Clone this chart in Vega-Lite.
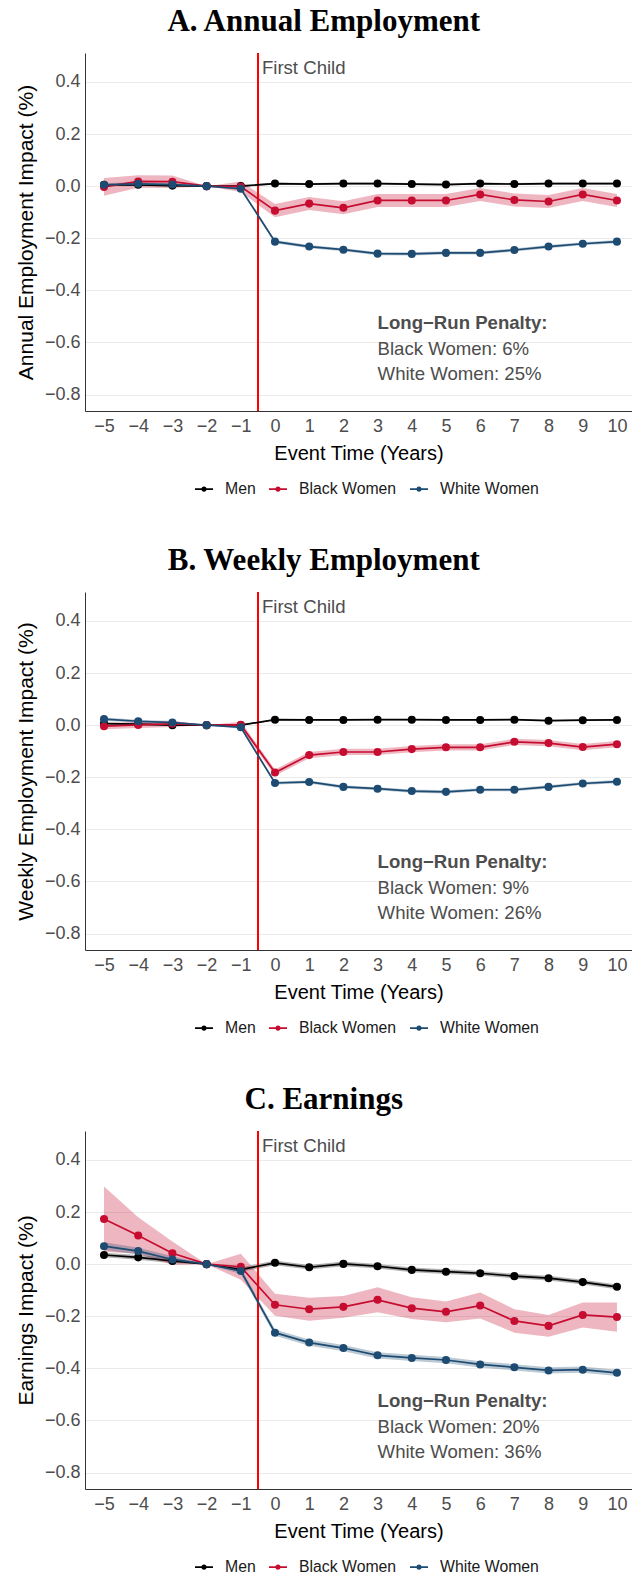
{
  "$schema": "https://vega.github.io/schema/vega-lite/v6.json",
  "padding": {"left": 15, "top": 6, "right": 0, "bottom": 0},
  "background": "white",
  "spacing": 48,
  "datasets": {
    "est": [
      {"p":"A","s":"Men","t":-5,"y":0.005,"lo":0.001,"hi":0.009},
      {"p":"A","s":"Men","t":-4,"y":0.005,"lo":0.001,"hi":0.009},
      {"p":"A","s":"Men","t":-3,"y":0.002,"lo":-0.002,"hi":0.006},
      {"p":"A","s":"Men","t":-2,"y":0,"lo":0,"hi":0},
      {"p":"A","s":"Men","t":-1,"y":0,"lo":-0.004,"hi":0.004},
      {"p":"A","s":"Men","t":0,"y":0.010,"lo":0.006,"hi":0.014},
      {"p":"A","s":"Men","t":1,"y":0.008,"lo":0.004,"hi":0.012},
      {"p":"A","s":"Men","t":2,"y":0.010,"lo":0.006,"hi":0.014},
      {"p":"A","s":"Men","t":3,"y":0.010,"lo":0.006,"hi":0.014},
      {"p":"A","s":"Men","t":4,"y":0.008,"lo":0.004,"hi":0.012},
      {"p":"A","s":"Men","t":5,"y":0.006,"lo":0.002,"hi":0.010},
      {"p":"A","s":"Men","t":6,"y":0.010,"lo":0.006,"hi":0.014},
      {"p":"A","s":"Men","t":7,"y":0.008,"lo":0.004,"hi":0.012},
      {"p":"A","s":"Men","t":8,"y":0.010,"lo":0.006,"hi":0.014},
      {"p":"A","s":"Men","t":9,"y":0.010,"lo":0.006,"hi":0.014},
      {"p":"A","s":"Men","t":10,"y":0.010,"lo":0.006,"hi":0.014},
      {"p":"A","s":"Black Women","t":-5,"y":-0.003,"lo":-0.037,"hi":0.031},
      {"p":"A","s":"Black Women","t":-4,"y":0.018,"lo":-0.006,"hi":0.042},
      {"p":"A","s":"Black Women","t":-3,"y":0.017,"lo":-0.007,"hi":0.041},
      {"p":"A","s":"Black Women","t":-2,"y":0,"lo":0,"hi":0},
      {"p":"A","s":"Black Women","t":-1,"y":-0.002,"lo":-0.022,"hi":0.018},
      {"p":"A","s":"Black Women","t":0,"y":-0.094,"lo":-0.119,"hi":-0.069},
      {"p":"A","s":"Black Women","t":1,"y":-0.067,"lo":-0.092,"hi":-0.042},
      {"p":"A","s":"Black Women","t":2,"y":-0.083,"lo":-0.108,"hi":-0.058},
      {"p":"A","s":"Black Women","t":3,"y":-0.055,"lo":-0.080,"hi":-0.030},
      {"p":"A","s":"Black Women","t":4,"y":-0.055,"lo":-0.080,"hi":-0.030},
      {"p":"A","s":"Black Women","t":5,"y":-0.055,"lo":-0.080,"hi":-0.030},
      {"p":"A","s":"Black Women","t":6,"y":-0.032,"lo":-0.057,"hi":-0.007},
      {"p":"A","s":"Black Women","t":7,"y":-0.053,"lo":-0.078,"hi":-0.028},
      {"p":"A","s":"Black Women","t":8,"y":-0.059,"lo":-0.084,"hi":-0.034},
      {"p":"A","s":"Black Women","t":9,"y":-0.032,"lo":-0.057,"hi":-0.007},
      {"p":"A","s":"Black Women","t":10,"y":-0.055,"lo":-0.080,"hi":-0.030},
      {"p":"A","s":"White Women","t":-5,"y":0.005,"lo":-0.001,"hi":0.011},
      {"p":"A","s":"White Women","t":-4,"y":0.009,"lo":0.003,"hi":0.015},
      {"p":"A","s":"White Women","t":-3,"y":0.006,"lo":0.000,"hi":0.012},
      {"p":"A","s":"White Women","t":-2,"y":0,"lo":0,"hi":0},
      {"p":"A","s":"White Women","t":-1,"y":-0.010,"lo":-0.016,"hi":-0.004},
      {"p":"A","s":"White Women","t":0,"y":-0.213,"lo":-0.219,"hi":-0.207},
      {"p":"A","s":"White Women","t":1,"y":-0.232,"lo":-0.238,"hi":-0.226},
      {"p":"A","s":"White Women","t":2,"y":-0.244,"lo":-0.250,"hi":-0.238},
      {"p":"A","s":"White Women","t":3,"y":-0.259,"lo":-0.265,"hi":-0.253},
      {"p":"A","s":"White Women","t":4,"y":-0.260,"lo":-0.266,"hi":-0.254},
      {"p":"A","s":"White Women","t":5,"y":-0.256,"lo":-0.262,"hi":-0.250},
      {"p":"A","s":"White Women","t":6,"y":-0.256,"lo":-0.262,"hi":-0.250},
      {"p":"A","s":"White Women","t":7,"y":-0.245,"lo":-0.251,"hi":-0.239},
      {"p":"A","s":"White Women","t":8,"y":-0.232,"lo":-0.238,"hi":-0.226},
      {"p":"A","s":"White Women","t":9,"y":-0.221,"lo":-0.227,"hi":-0.215},
      {"p":"A","s":"White Women","t":10,"y":-0.213,"lo":-0.219,"hi":-0.207},

      {"p":"B","s":"Men","t":-5,"y":0.006,"lo":0.003,"hi":0.009},
      {"p":"B","s":"Men","t":-4,"y":0.004,"lo":0.001,"hi":0.007},
      {"p":"B","s":"Men","t":-3,"y":0.000,"lo":-0.003,"hi":0.003},
      {"p":"B","s":"Men","t":-2,"y":0,"lo":0,"hi":0},
      {"p":"B","s":"Men","t":-1,"y":0.000,"lo":-0.003,"hi":0.003},
      {"p":"B","s":"Men","t":0,"y":0.021,"lo":0.018,"hi":0.024},
      {"p":"B","s":"Men","t":1,"y":0.020,"lo":0.017,"hi":0.023},
      {"p":"B","s":"Men","t":2,"y":0.020,"lo":0.017,"hi":0.023},
      {"p":"B","s":"Men","t":3,"y":0.021,"lo":0.018,"hi":0.024},
      {"p":"B","s":"Men","t":4,"y":0.021,"lo":0.018,"hi":0.024},
      {"p":"B","s":"Men","t":5,"y":0.020,"lo":0.017,"hi":0.023},
      {"p":"B","s":"Men","t":6,"y":0.020,"lo":0.017,"hi":0.023},
      {"p":"B","s":"Men","t":7,"y":0.021,"lo":0.018,"hi":0.024},
      {"p":"B","s":"Men","t":8,"y":0.017,"lo":0.014,"hi":0.020},
      {"p":"B","s":"Men","t":9,"y":0.019,"lo":0.016,"hi":0.022},
      {"p":"B","s":"Men","t":10,"y":0.020,"lo":0.017,"hi":0.023},
      {"p":"B","s":"Black Women","t":-5,"y":-0.004,"lo":-0.016,"hi":0.008},
      {"p":"B","s":"Black Women","t":-4,"y":0.001,"lo":-0.011,"hi":0.013},
      {"p":"B","s":"Black Women","t":-3,"y":0.005,"lo":-0.007,"hi":0.017},
      {"p":"B","s":"Black Women","t":-2,"y":0,"lo":0,"hi":0},
      {"p":"B","s":"Black Women","t":-1,"y":0.001,"lo":-0.011,"hi":0.013},
      {"p":"B","s":"Black Women","t":0,"y":-0.182,"lo":-0.194,"hi":-0.170},
      {"p":"B","s":"Black Women","t":1,"y":-0.115,"lo":-0.127,"hi":-0.103},
      {"p":"B","s":"Black Women","t":2,"y":-0.103,"lo":-0.115,"hi":-0.091},
      {"p":"B","s":"Black Women","t":3,"y":-0.103,"lo":-0.115,"hi":-0.091},
      {"p":"B","s":"Black Women","t":4,"y":-0.092,"lo":-0.104,"hi":-0.080},
      {"p":"B","s":"Black Women","t":5,"y":-0.085,"lo":-0.097,"hi":-0.073},
      {"p":"B","s":"Black Women","t":6,"y":-0.085,"lo":-0.097,"hi":-0.073},
      {"p":"B","s":"Black Women","t":7,"y":-0.064,"lo":-0.076,"hi":-0.052},
      {"p":"B","s":"Black Women","t":8,"y":-0.069,"lo":-0.081,"hi":-0.057},
      {"p":"B","s":"Black Women","t":9,"y":-0.084,"lo":-0.096,"hi":-0.072},
      {"p":"B","s":"Black Women","t":10,"y":-0.073,"lo":-0.085,"hi":-0.061},
      {"p":"B","s":"White Women","t":-5,"y":0.023,"lo":0.017,"hi":0.029},
      {"p":"B","s":"White Women","t":-4,"y":0.015,"lo":0.009,"hi":0.021},
      {"p":"B","s":"White Women","t":-3,"y":0.010,"lo":0.004,"hi":0.016},
      {"p":"B","s":"White Women","t":-2,"y":0,"lo":0,"hi":0},
      {"p":"B","s":"White Women","t":-1,"y":-0.008,"lo":-0.014,"hi":-0.002},
      {"p":"B","s":"White Women","t":0,"y":-0.222,"lo":-0.228,"hi":-0.216},
      {"p":"B","s":"White Women","t":1,"y":-0.218,"lo":-0.224,"hi":-0.212},
      {"p":"B","s":"White Women","t":2,"y":-0.237,"lo":-0.243,"hi":-0.231},
      {"p":"B","s":"White Women","t":3,"y":-0.244,"lo":-0.250,"hi":-0.238},
      {"p":"B","s":"White Women","t":4,"y":-0.253,"lo":-0.259,"hi":-0.247},
      {"p":"B","s":"White Women","t":5,"y":-0.256,"lo":-0.262,"hi":-0.250},
      {"p":"B","s":"White Women","t":6,"y":-0.248,"lo":-0.254,"hi":-0.242},
      {"p":"B","s":"White Women","t":7,"y":-0.248,"lo":-0.254,"hi":-0.242},
      {"p":"B","s":"White Women","t":8,"y":-0.237,"lo":-0.243,"hi":-0.231},
      {"p":"B","s":"White Women","t":9,"y":-0.224,"lo":-0.230,"hi":-0.218},
      {"p":"B","s":"White Women","t":10,"y":-0.217,"lo":-0.223,"hi":-0.211},

      {"p":"C","s":"Men","t":-5,"y":0.035,"lo":0.026,"hi":0.044},
      {"p":"C","s":"Men","t":-4,"y":0.026,"lo":0.017,"hi":0.035},
      {"p":"C","s":"Men","t":-3,"y":0.012,"lo":0.003,"hi":0.021},
      {"p":"C","s":"Men","t":-2,"y":0,"lo":0,"hi":0},
      {"p":"C","s":"Men","t":-1,"y":-0.021,"lo":-0.030,"hi":-0.012},
      {"p":"C","s":"Men","t":0,"y":0.005,"lo":-0.004,"hi":0.014},
      {"p":"C","s":"Men","t":1,"y":-0.012,"lo":-0.021,"hi":-0.003},
      {"p":"C","s":"Men","t":2,"y":0.001,"lo":-0.008,"hi":0.010},
      {"p":"C","s":"Men","t":3,"y":-0.008,"lo":-0.017,"hi":0.001},
      {"p":"C","s":"Men","t":4,"y":-0.022,"lo":-0.031,"hi":-0.013},
      {"p":"C","s":"Men","t":5,"y":-0.029,"lo":-0.038,"hi":-0.020},
      {"p":"C","s":"Men","t":6,"y":-0.035,"lo":-0.044,"hi":-0.026},
      {"p":"C","s":"Men","t":7,"y":-0.046,"lo":-0.055,"hi":-0.037},
      {"p":"C","s":"Men","t":8,"y":-0.054,"lo":-0.063,"hi":-0.045},
      {"p":"C","s":"Men","t":9,"y":-0.069,"lo":-0.078,"hi":-0.060},
      {"p":"C","s":"Men","t":10,"y":-0.087,"lo":-0.096,"hi":-0.078},
      {"p":"C","s":"Black Women","t":-5,"y":0.173,"lo":0.048,"hi":0.298},
      {"p":"C","s":"Black Women","t":-4,"y":0.110,"lo":0.040,"hi":0.180},
      {"p":"C","s":"Black Women","t":-3,"y":0.042,"lo":-0.003,"hi":0.087},
      {"p":"C","s":"Black Women","t":-2,"y":0,"lo":0,"hi":0},
      {"p":"C","s":"Black Women","t":-1,"y":-0.010,"lo":-0.060,"hi":0.040},
      {"p":"C","s":"Black Women","t":0,"y":-0.156,"lo":-0.198,"hi":-0.114},
      {"p":"C","s":"Black Women","t":1,"y":-0.173,"lo":-0.217,"hi":-0.129},
      {"p":"C","s":"Black Women","t":2,"y":-0.164,"lo":-0.206,"hi":-0.122},
      {"p":"C","s":"Black Women","t":3,"y":-0.137,"lo":-0.185,"hi":-0.089},
      {"p":"C","s":"Black Women","t":4,"y":-0.169,"lo":-0.211,"hi":-0.127},
      {"p":"C","s":"Black Women","t":5,"y":-0.183,"lo":-0.223,"hi":-0.143},
      {"p":"C","s":"Black Women","t":6,"y":-0.159,"lo":-0.209,"hi":-0.109},
      {"p":"C","s":"Black Women","t":7,"y":-0.218,"lo":-0.263,"hi":-0.173},
      {"p":"C","s":"Black Women","t":8,"y":-0.237,"lo":-0.279,"hi":-0.195},
      {"p":"C","s":"Black Women","t":9,"y":-0.195,"lo":-0.243,"hi":-0.147},
      {"p":"C","s":"Black Women","t":10,"y":-0.203,"lo":-0.259,"hi":-0.147},
      {"p":"C","s":"White Women","t":-5,"y":0.069,"lo":0.054,"hi":0.084},
      {"p":"C","s":"White Women","t":-4,"y":0.050,"lo":0.037,"hi":0.063},
      {"p":"C","s":"White Women","t":-3,"y":0.018,"lo":0.006,"hi":0.030},
      {"p":"C","s":"White Women","t":-2,"y":0,"lo":0,"hi":0},
      {"p":"C","s":"White Women","t":-1,"y":-0.026,"lo":-0.038,"hi":-0.014},
      {"p":"C","s":"White Women","t":0,"y":-0.263,"lo":-0.275,"hi":-0.251},
      {"p":"C","s":"White Women","t":1,"y":-0.301,"lo":-0.313,"hi":-0.289},
      {"p":"C","s":"White Women","t":2,"y":-0.322,"lo":-0.334,"hi":-0.310},
      {"p":"C","s":"White Women","t":3,"y":-0.350,"lo":-0.362,"hi":-0.338},
      {"p":"C","s":"White Women","t":4,"y":-0.360,"lo":-0.372,"hi":-0.348},
      {"p":"C","s":"White Women","t":5,"y":-0.368,"lo":-0.380,"hi":-0.356},
      {"p":"C","s":"White Women","t":6,"y":-0.385,"lo":-0.397,"hi":-0.373},
      {"p":"C","s":"White Women","t":7,"y":-0.396,"lo":-0.408,"hi":-0.384},
      {"p":"C","s":"White Women","t":8,"y":-0.408,"lo":-0.420,"hi":-0.396},
      {"p":"C","s":"White Women","t":9,"y":-0.405,"lo":-0.417,"hi":-0.393},
      {"p":"C","s":"White Women","t":10,"y":-0.417,"lo":-0.429,"hi":-0.405}
    ]
  },
  "data": {"name": "est"},
  "vconcat": [
    {
      "title": {"text": "A. Annual Employment"},
      "width": 547, "height": 358,
      "transform": [{"filter": "datum.p === 'A'"}],
      "layer": [
        {"mark": {"type": "area", "opacity": 0.3},
         "encoding": {
           "x": {"field": "t", "type": "quantitative", "title": "Event Time (Years)", "scale": {"domain": [-5.556, 10.44], "nice": false, "zero": false}, "axis": {"values": [-5,-4,-3,-2,-1,0,1,2,3,4,5,6,7,8,9,10], "tickCount": 20, "format": "d", "labelOverlap": false, "labelFlush": false}},
           "y": {"field": "lo", "type": "quantitative", "title": "Annual Employment Impact (%)", "scale": {"domain": [-0.863, 0.511], "nice": false, "zero": false}, "axis": {"values": [-0.8,-0.6,-0.4,-0.2,0,0.2,0.4], "tickCount": 10, "format": ".1f"}},
           "y2": {"field": "hi"},
           "color": {"field": "s", "type": "nominal", "title": null, "scale": {"domain": ["Men","Black Women","White Women"], "range": ["#000000","#C60C30","#1D4B72"]}, "legend": {"orient": "none", "legendX": 110, "legendY": 427, "direction": "horizontal"}}
         }},
        {"mark": {"type": "rule", "color": "#FF0000", "strokeWidth": 1.5},
         "encoding": {"x": {"datum": -0.5}}},
        {"mark": {"type": "line", "strokeWidth": 1.7},
         "encoding": {
           "x": {"field": "t", "type": "quantitative", "title": "Event Time (Years)"},
           "y": {"field": "y", "type": "quantitative", "title": "Annual Employment Impact (%)"},
           "color": {"field": "s", "type": "nominal", "title": null}
         }},
        {"mark": {"type": "point", "filled": true, "size": 65, "opacity": 1},
         "encoding": {
           "x": {"field": "t", "type": "quantitative", "title": "Event Time (Years)"},
           "y": {"field": "y", "type": "quantitative", "title": "Annual Employment Impact (%)"},
           "color": {"field": "s", "type": "nominal", "title": null}
         }},
        {"data": {"values": [{}]},
         "mark": {"type": "text", "text": "First Child", "align": "left", "baseline": "middle", "dx": 4, "fontSize": 18.6, "color": "#4D4D4D", "font": "Liberation Sans"},
         "encoding": {"x": {"datum": -0.5}, "y": {"datum": 0.453}}},
        {"data": {"values": [{}]},
         "mark": {"type": "text", "text": "Long−Run Penalty:", "align": "left", "baseline": "middle", "fontSize": 18.6, "fontWeight": "bold", "color": "#4D4D4D", "font": "Liberation Sans"},
         "encoding": {"x": {"datum": 3}, "y": {"datum": -0.527}}},
        {"data": {"values": [{}]},
         "mark": {"type": "text", "text": "Black Women: 6%", "align": "left", "baseline": "middle", "fontSize": 18.6, "color": "#4D4D4D", "font": "Liberation Sans"},
         "encoding": {"x": {"datum": 3}, "y": {"datum": -0.624}}},
        {"data": {"values": [{}]},
         "mark": {"type": "text", "text": "White Women: 25%", "align": "left", "baseline": "middle", "fontSize": 18.6, "color": "#4D4D4D", "font": "Liberation Sans"},
         "encoding": {"x": {"datum": 3}, "y": {"datum": -0.72}}}
      ]
    },
    {
      "title": {"text": "B. Weekly Employment"},
      "width": 547, "height": 358,
      "transform": [{"filter": "datum.p === 'B'"}],
      "layer": [
        {"mark": {"type": "area", "opacity": 0.3},
         "encoding": {
           "x": {"field": "t", "type": "quantitative", "title": "Event Time (Years)", "scale": {"domain": [-5.556, 10.44], "nice": false, "zero": false}, "axis": {"values": [-5,-4,-3,-2,-1,0,1,2,3,4,5,6,7,8,9,10], "tickCount": 20, "format": "d", "labelOverlap": false, "labelFlush": false}},
           "y": {"field": "lo", "type": "quantitative", "title": "Weekly Employment Impact (%)", "scale": {"domain": [-0.863, 0.511], "nice": false, "zero": false}, "axis": {"values": [-0.8,-0.6,-0.4,-0.2,0,0.2,0.4], "tickCount": 10, "format": ".1f"}},
           "y2": {"field": "hi"},
           "color": {"field": "s", "type": "nominal", "title": null, "scale": {"domain": ["Men","Black Women","White Women"], "range": ["#000000","#C60C30","#1D4B72"]}, "legend": {"orient": "none", "legendX": 110, "legendY": 427, "direction": "horizontal"}}
         }},
        {"mark": {"type": "rule", "color": "#FF0000", "strokeWidth": 1.5},
         "encoding": {"x": {"datum": -0.5}}},
        {"mark": {"type": "line", "strokeWidth": 1.7},
         "encoding": {
           "x": {"field": "t", "type": "quantitative", "title": "Event Time (Years)"},
           "y": {"field": "y", "type": "quantitative", "title": "Weekly Employment Impact (%)"},
           "color": {"field": "s", "type": "nominal", "title": null}
         }},
        {"mark": {"type": "point", "filled": true, "size": 65, "opacity": 1},
         "encoding": {
           "x": {"field": "t", "type": "quantitative", "title": "Event Time (Years)"},
           "y": {"field": "y", "type": "quantitative", "title": "Weekly Employment Impact (%)"},
           "color": {"field": "s", "type": "nominal", "title": null}
         }},
        {"data": {"values": [{}]},
         "mark": {"type": "text", "text": "First Child", "align": "left", "baseline": "middle", "dx": 4, "fontSize": 18.6, "color": "#4D4D4D", "font": "Liberation Sans"},
         "encoding": {"x": {"datum": -0.5}, "y": {"datum": 0.453}}},
        {"data": {"values": [{}]},
         "mark": {"type": "text", "text": "Long−Run Penalty:", "align": "left", "baseline": "middle", "fontSize": 18.6, "fontWeight": "bold", "color": "#4D4D4D", "font": "Liberation Sans"},
         "encoding": {"x": {"datum": 3}, "y": {"datum": -0.527}}},
        {"data": {"values": [{}]},
         "mark": {"type": "text", "text": "Black Women: 9%", "align": "left", "baseline": "middle", "fontSize": 18.6, "color": "#4D4D4D", "font": "Liberation Sans"},
         "encoding": {"x": {"datum": 3}, "y": {"datum": -0.624}}},
        {"data": {"values": [{}]},
         "mark": {"type": "text", "text": "White Women: 26%", "align": "left", "baseline": "middle", "fontSize": 18.6, "color": "#4D4D4D", "font": "Liberation Sans"},
         "encoding": {"x": {"datum": 3}, "y": {"datum": -0.72}}}
      ]
    },
    {
      "title": {"text": "C. Earnings"},
      "width": 547, "height": 358,
      "transform": [{"filter": "datum.p === 'C'"}],
      "layer": [
        {"mark": {"type": "area", "opacity": 0.3},
         "encoding": {
           "x": {"field": "t", "type": "quantitative", "title": "Event Time (Years)", "scale": {"domain": [-5.556, 10.44], "nice": false, "zero": false}, "axis": {"values": [-5,-4,-3,-2,-1,0,1,2,3,4,5,6,7,8,9,10], "tickCount": 20, "format": "d", "labelOverlap": false, "labelFlush": false}},
           "y": {"field": "lo", "type": "quantitative", "title": "Earnings Impact (%)", "scale": {"domain": [-0.863, 0.511], "nice": false, "zero": false}, "axis": {"values": [-0.8,-0.6,-0.4,-0.2,0,0.2,0.4], "tickCount": 10, "format": ".1f"}},
           "y2": {"field": "hi"},
           "color": {"field": "s", "type": "nominal", "title": null, "scale": {"domain": ["Men","Black Women","White Women"], "range": ["#000000","#C60C30","#1D4B72"]}, "legend": {"orient": "none", "legendX": 110, "legendY": 427, "direction": "horizontal"}}
         }},
        {"mark": {"type": "rule", "color": "#FF0000", "strokeWidth": 1.5},
         "encoding": {"x": {"datum": -0.5}}},
        {"mark": {"type": "line", "strokeWidth": 1.7},
         "encoding": {
           "x": {"field": "t", "type": "quantitative", "title": "Event Time (Years)"},
           "y": {"field": "y", "type": "quantitative", "title": "Earnings Impact (%)"},
           "color": {"field": "s", "type": "nominal", "title": null}
         }},
        {"mark": {"type": "point", "filled": true, "size": 65, "opacity": 1},
         "encoding": {
           "x": {"field": "t", "type": "quantitative", "title": "Event Time (Years)"},
           "y": {"field": "y", "type": "quantitative", "title": "Earnings Impact (%)"},
           "color": {"field": "s", "type": "nominal", "title": null}
         }},
        {"data": {"values": [{}]},
         "mark": {"type": "text", "text": "First Child", "align": "left", "baseline": "middle", "dx": 4, "fontSize": 18.6, "color": "#4D4D4D", "font": "Liberation Sans"},
         "encoding": {"x": {"datum": -0.5}, "y": {"datum": 0.453}}},
        {"data": {"values": [{}]},
         "mark": {"type": "text", "text": "Long−Run Penalty:", "align": "left", "baseline": "middle", "fontSize": 18.6, "fontWeight": "bold", "color": "#4D4D4D", "font": "Liberation Sans"},
         "encoding": {"x": {"datum": 3}, "y": {"datum": -0.527}}},
        {"data": {"values": [{}]},
         "mark": {"type": "text", "text": "Black Women: 20%", "align": "left", "baseline": "middle", "fontSize": 18.6, "color": "#4D4D4D", "font": "Liberation Sans"},
         "encoding": {"x": {"datum": 3}, "y": {"datum": -0.624}}},
        {"data": {"values": [{}]},
         "mark": {"type": "text", "text": "White Women: 36%", "align": "left", "baseline": "middle", "fontSize": 18.6, "color": "#4D4D4D", "font": "Liberation Sans"},
         "encoding": {"x": {"datum": 3}, "y": {"datum": -0.72}}}
      ]
    }
  ],
  "resolve": {"scale": {"color": "independent"}, "legend": {"color": "independent"}},
  "config": {
    "view": {"stroke": null},
    "title": {"font": "Liberation Serif", "fontSize": 31, "fontWeight": "bold", "color": "#000000", "anchor": "middle", "frame": "bounds", "offset": 14},
    "axis": {"labelFont": "Liberation Sans", "labelFontSize": 18, "labelColor": "#4D4D4D", "titleFont": "Liberation Sans", "titleFontSize": 20, "titleFontWeight": "normal", "titleColor": "#000000", "domainColor": "#333333", "domainWidth": 1, "ticks": false, "gridColor": "#EBEBEB", "gridWidth": 1},
    "axisX": {"grid": false, "labelPadding": 6, "titlePadding": 8, "labelOverlap": false},
    "axisY": {"grid": true, "labelPadding": 5, "titlePadding": 8, "titleFontSize": 21},
    "legend": {"labelFont": "Liberation Sans", "labelFontSize": 15.8, "labelColor": "#1A1A1A", "symbolOpacity": 1, "symbolType": "M-1,-0.09L1,-0.09L1,0.09L-1,0.09Z M-0.3,0A0.3,0.3,0,1,1,0.3,0A0.3,0.3,0,1,1,-0.3,0Z", "symbolSize": 324, "symbolStrokeWidth": 0, "columnPadding": 13, "labelOffset": 12}
  }
}
